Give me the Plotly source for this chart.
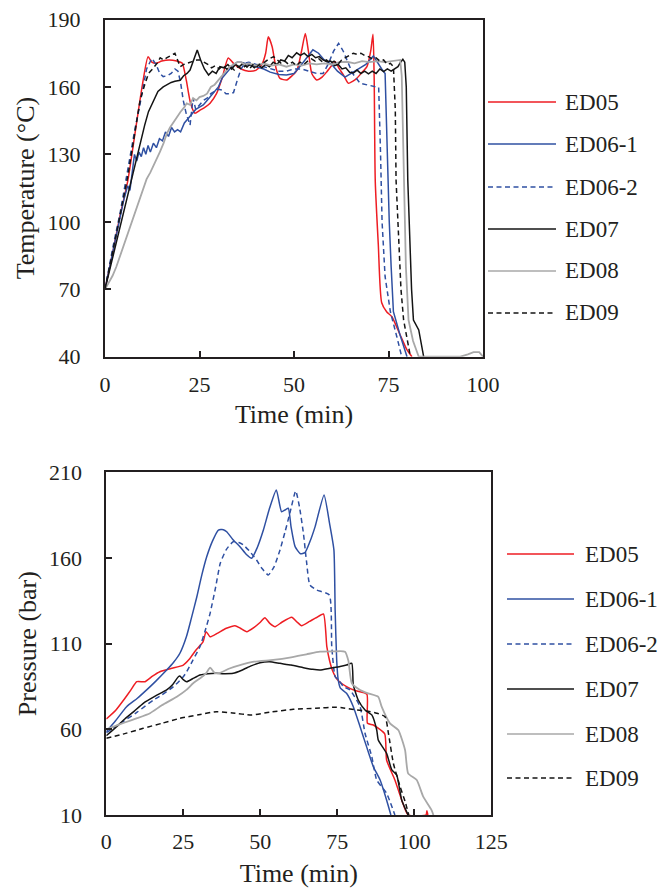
import plotly.graph_objects as go

# ---------------- Temperature curves (time in min, temperature in °C) ----------------
t_ed05 = [0, 2, 4, 6, 8, 10, 11.4, 12.4, 13.5, 15, 17, 19, 20.4, 21.5, 22.6, 23.8, 25, 26.5,
          27.8, 29.5, 31, 32.6, 34, 36, 38, 40, 41.5, 42.5, 43.2, 44.2, 45.3, 46.3, 48.1, 49.5,
          50.8, 52, 53, 53.8, 54.7, 56, 57.5, 58.7, 60, 60.9, 62, 63.1, 64.4, 65.5, 66.6, 68,
          69.3, 70.3, 70.9, 71.2, 71.5, 72.3, 73.2, 74.5, 75.9, 78, 79.9, 81.2]
temp_ed05 = [70, 86, 103, 118, 140, 162, 173.4, 171, 170.5, 171.5, 172, 171.5, 170.6, 163, 153,
             148.3, 149.5, 151, 152.8, 157, 164, 172.9, 170.5, 168, 167, 167.5, 170, 175, 182.3,
             178, 168, 163.8, 163.1, 165, 167.5, 176, 183.8, 176, 166, 163.1, 164.5, 166.8,
             169.5, 171.2, 168, 165.3, 161.6, 162.5, 163.8, 166.5, 169, 176, 183.4, 164.6, 118,
             90, 64, 60, 57.8, 50, 43, 40]

t_ed061 = [0, 1, 2, 3, 4, 5, 6, 6.6, 7.2, 7.8, 8.4, 9, 9.6, 10.2, 10.8, 11.4, 12, 12.8, 13.6,
           14.4, 15.2, 16, 16.8, 17.6, 18.4, 19.2, 20, 21, 22, 23, 24, 25, 26, 27, 28, 29, 30,
           31, 32, 33, 34, 35, 36, 38, 40, 42, 43.7, 46, 48, 50, 52, 54, 55, 56.5, 58, 60, 61.5,
           63.5, 65, 67, 69, 71, 72, 73.2, 74.1, 74.6, 75.2, 75.7, 76.3, 78, 79.9]
temp_ed061 = [70, 78, 87, 95, 103, 110, 116, 114, 122, 130, 127, 131, 129, 133, 130, 134, 131,
              135, 133, 137, 136, 140, 138, 142, 140, 141, 140, 144, 146, 148, 150, 151, 152,
              154, 156, 158, 160, 164, 166, 168, 170, 171, 171, 170, 169, 168, 166.6, 165.5,
              165.3, 166, 170, 174, 176.5, 175, 172, 170, 167, 164.4, 166, 168, 170, 173.8, 171,
              168, 166, 135, 100, 80, 60, 50, 40]

t_ed062 = [0, 2, 4, 6, 8, 9, 10, 11, 12.4, 13.5, 14.5, 15.4, 16.5, 17.5, 18.5, 19.3, 20, 20.7,
           21.5, 22.5, 23.3, 24, 25, 26, 27, 28, 29, 30, 31, 32, 33, 34, 35, 36, 37, 38, 40, 42,
           44, 46, 48, 50, 52, 54, 56, 57.7, 59, 60.5, 61.8, 63, 64, 65.5, 67.5, 69, 71, 72.4,
           72.9, 73.3, 74.1, 75.5, 77.2, 78.5]
temp_ed062 = [70, 88, 104, 124, 142, 150, 160, 168, 172.7, 170, 166, 164.6, 165, 166, 168, 167,
              162, 154, 148, 143, 155, 150, 152, 154, 155, 157, 158, 159, 158.6, 157, 157, 157.5,
              163, 168, 170.6, 171, 170, 169, 168, 167, 167, 168, 168, 167, 166, 166, 170, 176,
              179.4, 176, 172, 166, 161.6, 161, 160.5, 159.8, 130, 100, 75.6, 60, 48.9, 40]

t_ed07 = [0, 2, 4, 6, 7, 8, 9.3, 10.5, 11.5, 12.8, 14, 15.4, 16.5, 17.5, 18.5, 19.9, 20.8, 21.7,
          22.5, 23.5, 24.4, 25.3, 26.3, 27.4, 28.4, 29.4, 30.4, 31.5, 32.5, 33.5, 34.5, 35.5,
          36.5, 37.5, 38.5, 39.5, 40.5, 41.5, 42.5, 43.5, 44.5, 45.5, 46.5, 47.5, 48.5, 49.5,
          50.7, 51.7, 52.7, 53.7, 54.7, 55.7, 56.7, 57.7, 58.7, 59.7, 60.7, 61.7, 62.7, 63.7,
          64.7, 65.7, 66.7, 67.7, 68.7, 69.7, 70.7, 71.7, 72.7, 73.7, 74.7, 75.7, 76.5, 77.5,
          78.2, 78.8, 79.3, 79.7, 80.1, 80.6, 81.1, 81.6, 83, 84.3]
temp_ed07 = [70, 84, 98, 112, 118, 126, 135, 143, 149, 154, 158, 160, 161, 162, 162.5, 163, 165,
             166, 167.5, 172, 176.4, 172, 168, 165.3, 167, 166, 169, 168.5, 170, 168, 170, 169,
             170.5, 169, 170, 168.5, 170, 168.5, 170, 169, 171, 170, 172, 171.5, 174, 173, 175.2,
             174, 175, 173.5, 174.5, 173, 173.5, 172, 171.2, 171.5, 169.5, 170, 168, 168.5,
             166.5, 166.2, 167.5, 166, 167, 165.8, 167, 166, 168, 166.8, 168, 167, 168, 169, 171,
             172.3, 171, 160, 118.6, 90, 70, 56.3, 51.9, 40]

t_ed08 = [0, 1, 2, 3, 4, 5, 6, 7, 8, 9, 10, 11, 12, 13, 13.7, 14.5, 15.5, 16.3, 17.2, 18, 19, 20,
          21, 21.6, 22.5, 23.3, 24.2, 25, 26, 27, 28, 29, 30, 31, 32, 33, 34, 35, 36, 37, 38, 40,
          42, 44, 46, 48, 50, 52, 54, 56, 58, 60, 62, 64, 66, 68, 70, 72, 74, 76, 78.1, 78.5,
          79, 79.6, 80.3, 81.5, 83, 94, 96, 97.5, 99, 100]
temp_ed08 = [70, 73, 76, 80, 85, 90, 95, 100, 105, 110, 115, 119, 122, 125.5, 127.5, 131, 135,
             139, 142, 144, 147, 149, 151, 152.7, 152, 155, 154, 155.5, 156, 157, 160, 161, 163,
             165, 167, 169, 170, 171, 171, 170, 170.5, 169.5, 170.5, 169.5, 170, 169, 170, 169.5,
             170.5, 170, 170.5, 170, 171, 171.2, 170.5, 171.5, 171, 171.5, 171, 171.5, 172, 165,
             118.6, 80, 56.3, 47, 40, 40, 41, 42, 42, 40]

t_ed09 = [0, 2, 4, 6, 8, 9.3, 10.5, 11.5, 12.6, 13.8, 14.6, 15.5, 16.4, 17.5, 18.5, 19.2, 19.9,
          20.8, 21.7, 22.5, 23.5, 24.3, 25.2, 26.2, 27.2, 28.2, 29.2, 30.2, 31.2, 32.2, 33.2,
          34.2, 35.2, 36.2, 37.2, 38.2, 39.2, 40.2, 41.2, 42.2, 43.4, 44.6, 45.6, 46.6, 47.6,
          48.6, 49.6, 50.6, 51.6, 52.6, 53.6, 54.6, 55.6, 56.6, 57.6, 58.6, 59.6, 60.6, 61.6,
          62.6, 63.6, 64.6, 65.7, 66.7, 67.7, 68.7, 69.7, 70.7, 71.7, 72.7, 73.7, 74.7, 75.5,
          76.3, 76.8, 77, 77.7, 78.3, 79, 80, 80.8]
temp_ed09 = [70, 86, 103, 120, 142, 154.2, 161, 166, 168, 170.6, 173, 172, 173, 174, 175, 172,
             169, 170, 170.5, 171, 171.5, 172, 172, 171, 170, 168.5, 169.5, 168, 169.5, 168, 169,
             167.5, 169, 168, 169.5, 168, 170, 169, 170.5, 171, 172.5, 173.5, 172, 170.5, 171.5,
             170, 171, 169.5, 171, 170, 171.5, 172.5, 171.5, 172.5, 171, 172, 170.5, 171.5, 170,
             172, 173, 174, 175, 174.5, 175, 174, 173.5, 172.5, 173, 171.5, 172, 170, 170.5, 169,
             150, 118.6, 90, 70, 56.3, 48, 40]

# ---------------- Pressure curves (time in min, pressure in bar) ----------------
tp_ed05 = [0, 3, 6, 8, 9.9, 12.6, 15, 17.4, 21, 25, 27, 29, 31.4, 32.4, 33.7, 36, 39, 41.8, 43.5,
           45.6, 48, 50, 51.5, 53, 54.8, 57, 60.2, 62, 63.4, 66, 68, 70.5, 71.6, 72.5, 73.5, 75,
           78, 81, 84.6, 84.8, 86.7, 90.4, 91, 93.7, 95.9, 98, 103.8, 104.1, 104.4]
p_ed05 = [66, 71, 78, 83, 87.8, 87.8, 91, 93.6, 95.5, 97.5, 101, 106, 111, 117, 114, 116, 119,
          120.5, 119, 117, 119.5, 122.5, 125.1, 122, 119.9, 122.5, 125.4, 122.5, 120.5, 123, 125,
          127.3, 108.2, 100, 94, 89, 84.9, 82.5, 80.5, 63.5, 62.5, 57.3, 42.1, 30.4, 18.8, 10, 10,
          12.5, 10]

tp_ed061 = [0, 3, 6.6, 10, 13.1, 16, 19.6, 21.8, 23.9, 26, 27.5, 29.4, 31, 32.6, 34.5, 36.4, 38,
            39.1, 41, 43.4, 45.5, 47.2, 49, 51, 53, 55.2, 56.9, 58, 59.1, 60, 61.3, 63, 64.5, 66,
            67.8, 70.7, 72.5, 73.9, 74.3, 74.8, 75.3, 76, 78, 80.2, 82.4, 84.5, 86.7, 88.9, 91,
            92.4]
p_ed061 = [58.6, 65, 73.2, 78, 83, 88, 94.6, 99, 104.4, 114, 124, 137.4, 150, 160.7, 170, 176.3,
           176.5, 175.3, 171, 166.6, 162, 159.8, 166, 176.3, 189, 199.7, 187, 188, 189, 178,
           166.6, 162.5, 163.1, 169, 178.3, 196.8, 180, 164.7, 129.6, 100.5, 88.8, 84, 81, 73.2,
           61.5, 49.9, 38.2, 30.4, 18.8, 10]

tp_ed062 = [0, 5, 10, 15.3, 18, 21.8, 25, 26.1, 28, 30.4, 32, 33.7, 35.5, 37, 39, 41.2, 43, 44.5,
            46.5, 48.8, 50.5, 52.6, 54.5, 56.4, 58, 59.6, 61.5, 62.7, 64, 65, 66.1, 68.3, 72.4,
            73.2, 74.3, 75.3, 77, 79.1, 82.4, 84, 86.2, 87.8, 91, 93.7]
p_ed062 = [58, 64, 70, 77.1, 80, 84.9, 90.7, 93.6, 100, 108.2, 117, 127.7, 143, 156.9, 165,
           169.5, 169, 167.6, 164, 158.8, 154, 150.1, 155, 164.7, 175, 186.1, 199.1, 190, 174.4,
           158, 144.2, 141.3, 138.4, 108.2, 90.7, 89, 85, 83, 73.2, 57.7, 44, 30.4, 22.7, 10]

tp_ed07 = [0, 3, 6, 9, 12, 16, 19.6, 21.5, 23.4, 23.9, 25, 26.1, 28, 30.4, 33, 35.8, 38, 41.2, 44,
           47, 49.9, 53, 56.4, 60, 64, 67, 69.4, 72.6, 75.9, 78, 79.7, 80.2, 81.8, 84, 86.2, 87.8,
           88.3, 91, 92.7, 94.3, 95.9, 98]
p_ed07 = [56.3, 61, 66, 70.5, 75.2, 79.5, 83, 86, 90.7, 91.1, 89, 87.8, 89.5, 91.7, 92.5, 92.7,
          92.5, 92.7, 94.5, 97, 98.9, 99.5, 98.5, 97.5, 96, 95, 94.6, 95.6, 96.6, 97.5, 98.5, 85.9,
          77.1, 71.3, 68.4, 59.6, 53.8, 46, 36.3, 33.3, 18.8, 10]

tp_ed08 = [0, 3, 6, 10, 14.2, 18, 22.9, 26, 28.2, 31, 32.5, 33.7, 35.3, 37, 40, 43.4, 48, 54.2, 60,
           65, 69.4, 74, 77.5, 78.6, 79.7, 82.4, 85, 88.3, 89.4, 92.1, 94.8, 97, 98, 100.8, 102.9,
           105.6, 106.2]
p_ed08 = [60, 62, 64, 66.5, 69.4, 74, 79, 83, 86.9, 90.5, 93, 96, 92.7, 93, 95.5, 97.5, 99.5,
          100.5, 102, 103.8, 105.3, 105.5, 105.3, 100, 86.9, 83, 81, 79, 73.2, 63.5, 59.6, 47.9,
          34.3, 30.4, 20.7, 12.9, 10]

tp_ed09 = [0, 6, 12, 18, 23.9, 30, 35.8, 41, 47.2, 53, 60.7, 68, 74.8, 77, 81.3, 85, 87.8, 90.5,
           91.6, 93.2, 95.4, 97, 98.2]
p_ed09 = [54.8, 57.5, 60.6, 63.5, 66.4, 68.5, 70.3, 69.5, 68.4, 70, 71.7, 72.3, 72.9, 72.5, 71.3,
          70.5, 69.4, 67.4, 57.7, 40.2, 26.5, 18, 10]

series_names = ["ED05", "ED06-1", "ED06-2", "ED07", "ED08", "ED09"]
temp_data = [(t_ed05, temp_ed05), (t_ed061, temp_ed061), (t_ed062, temp_ed062),
             (t_ed07, temp_ed07), (t_ed08, temp_ed08), (t_ed09, temp_ed09)]
pres_data = [(tp_ed05, p_ed05), (tp_ed061, p_ed061), (tp_ed062, p_ed062),
             (tp_ed07, p_ed07), (tp_ed08, p_ed08), (tp_ed09, p_ed09)]

# line styles per series
RED, BLUE, BLACK, GREY = "#ee1d23", "#2f50a2", "#141414", "#a8a8a8"
DASH = "5px,3.5px"
styles = [
    dict(color=RED, width=1.5, dash="solid"),
    dict(color=BLUE, width=1.5, dash="solid"),
    dict(color=BLUE, width=1.5, dash=DASH),
    dict(color=BLACK, width=1.5, dash="solid"),
    dict(color=GREY, width=1.8, dash="solid"),
    dict(color=BLACK, width=1.5, dash=DASH),
]
# the temperature record of ED05 and all pressure records are smooth traces
temp_smooth = [True, False, False, False, False, False]

W, H = 662, 892
FONT = "Liberation Serif, Times New Roman, serif"
INK = "#231f20"

fig = go.Figure()
for name, (tx, ty), st, sm in zip(series_names, temp_data, styles, temp_smooth):
    fig.add_trace(go.Scatter(x=tx, y=ty, mode="lines", name=name,
                             line=dict(st, shape="spline" if sm else "linear", smoothing=0.6),
                             showlegend=False, xaxis="x", yaxis="y"))
for name, (tx, ty), st in zip(series_names, pres_data, styles):
    fig.add_trace(go.Scatter(x=tx, y=ty, mode="lines", name=name,
                             line=dict(st, shape="spline", smoothing=0.5),
                             showlegend=False, xaxis="x2", yaxis="y2"))


def px_x(v):
    return v / W


def px_y(v):
    return 1 - v / H


axis_common = dict(
    showline=True, linecolor=INK, linewidth=2, mirror=True,
    ticks="inside", ticklen=6, tickwidth=2, tickcolor=INK,
    showgrid=False, zeroline=False, automargin=False,
    tickfont=dict(family=FONT, size=22, color=INK),
    title_font=dict(family=FONT, size=26, color=INK),
)

fig.update_layout(
    width=W, height=H,
    margin=dict(l=0, r=0, t=0, b=0),
    paper_bgcolor="white", plot_bgcolor="white",
    font=dict(family=FONT, color=INK),
    xaxis=dict(axis_common, domain=[px_x(105), px_x(483)], range=[0, 100],
               tickvals=[0, 25, 50, 75, 100], anchor="y",
               ticklabelstandoff=7,
               title=dict(text="Time (min)", standoff=9)),
    yaxis=dict(axis_common, domain=[px_y(356.7), px_y(19.5)], range=[40, 190],
               tickvals=[40, 70, 100, 130, 160, 190], anchor="x",
               ticklabelstandoff=18,
               title=dict(text="Temperature (°C)", standoff=5)),
    xaxis2=dict(axis_common, domain=[px_x(106.3), px_x(491.3)], range=[0, 125],
                tickvals=[0, 25, 50, 75, 100, 125], anchor="y2",
                ticklabelstandoff=6,
                title=dict(text="Time (min)", standoff=10)),
    yaxis2=dict(axis_common, domain=[px_y(815), px_y(472.3)], range=[10, 210],
                tickvals=[10, 60, 110, 160, 210], anchor="x2",
                ticklabelstandoff=18,
                title=dict(text="Pressure (bar)", standoff=5)),
)

# Legend boxes drawn beside each panel: sample line + label
legend_specs = [
    dict(x0=488, x1=556, text_x=563, rows=[102, 144, 187, 229, 271, 313]),
    dict(x0=507, x1=574, text_x=583, rows=[554, 599, 644, 689, 734, 778]),
]
for spec in legend_specs:
    for name, st, ry in zip(series_names, styles, spec["rows"]):
        fig.add_shape(type="line", xref="paper", yref="paper",
                      x0=px_x(spec["x0"]), x1=px_x(spec["x1"]),
                      y0=px_y(ry), y1=px_y(ry),
                      line=dict(color=st["color"], width=1.5, dash=st["dash"]))
        fig.add_annotation(text=name, xref="paper", yref="paper",
                           x=px_x(spec["text_x"]), y=px_y(ry),
                           xanchor="left", yanchor="middle", showarrow=False,
                           font=dict(family=FONT, size=23, color=INK))

fig.write_html("out.html")
